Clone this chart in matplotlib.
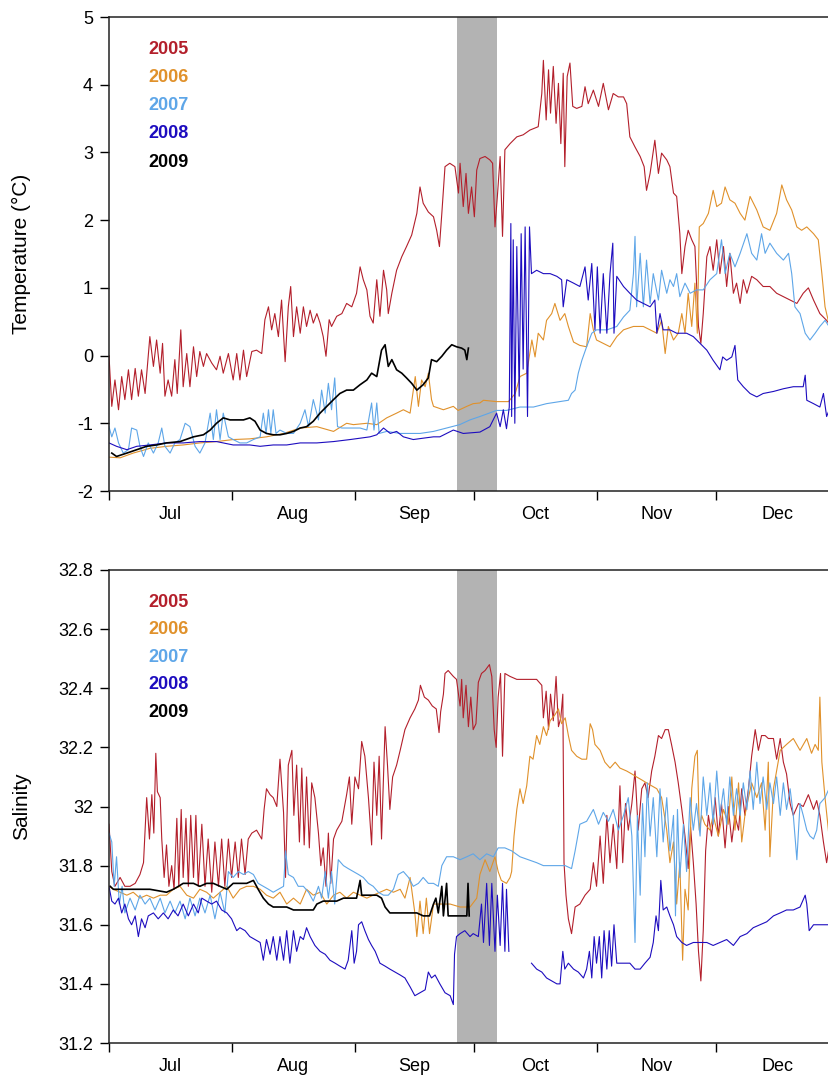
import numpy as np
import matplotlib.pyplot as plt
from matplotlib.ticker import FuncFormatter

plt.rcParams['font.family'] = ['Liberation Sans', 'DejaVu Sans']
plt.rcParams['axes.unicode_minus'] = False

years = ['2005', '2006', '2007', '2008', '2009']
colors = ['#b31f2b', '#e0912b', '#5ea6e8', '#1d0cbf', '#000000']

# x axis is days since 1 July
month_starts = [0, 31, 62, 92, 123, 153, 184]
month_names = ['Jul', 'Aug', 'Sep', 'Oct', 'Nov', 'Dec']
storm_days = [87.7, 97.8]

# ---- temperature (deg C) ----
t05_day = [0, 0.7, 1.5, 2.4, 3.2, 4.0, 4.9, 5.7, 6.6, 7.4,
           8.2, 9.1, 10.3, 11.2, 12.0, 12.9, 13.5, 14.1, 14.9, 15.8,
           16.6, 17.2, 18.1, 18.7, 19.6, 20.4, 21.3, 22.1, 22.9, 23.8,
           24.6, 25.9, 27.1, 28.0, 28.8, 30.1, 31.3, 32.2, 33.0, 33.9,
           34.7, 36.0, 37.2, 38.5, 39.3, 40.2, 41.0, 41.8, 42.7, 43.5,
           44.4, 45.2, 45.8, 46.5, 47.3, 48.2, 49.0, 49.8, 50.7, 51.5,
           52.4, 53.2, 54.0, 54.7, 55.5, 56.1, 57.4, 58.7, 59.9, 61.2,
           62.4, 63.3, 64.1, 65.0, 65.8, 66.6, 67.5, 68.3, 69.2, 70.0,
           70.4, 71.3, 72.5, 73.8, 75.0, 76.3, 77.6, 78.4, 79.2, 80.5,
           81.8, 82.6, 83.3, 83.9, 84.7, 85.9, 87.2, 88.1, 88.5, 89.3,
           90.0, 90.6, 91.4, 92.1, 92.7, 93.5, 94.8, 96.0, 96.7, 97.3,
           97.9, 98.6, 99.2, 99.8, 101.1, 102.8, 104.4, 106.1, 108.2, 109.1,
           109.5, 110.2, 110.8, 111.3, 112.0, 112.7, 113.3, 113.9, 114.5, 114.9,
           115.5, 116.2, 116.9, 117.9, 119.2, 120.0, 120.8, 122.1, 123.4, 124.6,
           125.9, 127.1, 128.4, 129.7, 130.5, 131.3, 132.6, 133.9, 134.9, 135.5,
           136.4, 137.6, 138.5, 139.3, 140.6, 141.4, 142.3, 143.1, 143.9, 144.4,
           145.2, 146.0, 146.9, 147.7, 148.6, 149.2, 149.8, 150.7, 151.5, 152.3,
           153.2, 154.0, 154.9, 155.7, 156.5, 157.4, 158.2, 159.1, 159.9, 160.8,
           162.0, 163.3, 164.9, 166.6, 168.3, 170.0, 171.7, 173.4, 175.0, 176.3,
           177.6, 179.2, 180.9, 181.5]
t05_val = [0.0, -0.75, -0.36, -0.8, -0.31, -0.65, -0.21, -0.65, -0.19, -0.6,
           -0.21, -0.56, 0.28, -0.16, 0.23, -0.26, 0.18, -0.6, -0.36, -0.6,
           -0.06, -0.56, 0.38, -0.46, 0.03, -0.46, 0.13, -0.31, 0.06, -0.16,
           0.03, -0.11, -0.21, -0.01, -0.26, 0.03, -0.36, 0.03, -0.36, 0.08,
           -0.31, 0.06, 0.08, 0.03, 0.53, 0.72, 0.38, 0.62, 0.28, 0.82,
           -0.09, 0.72, 1.02, 0.28, 0.72, 0.33, 0.72, 0.43, 0.67, 0.48,
           0.62, 0.48, 0.28, -0.01, 0.53, 0.43, 0.58, 0.62, 0.77, 0.72,
           0.92, 1.31, 1.12, 0.97, 0.58, 0.48, 1.12, 0.58, 1.26, 0.97,
           0.62, 0.92, 1.26, 1.46, 1.61, 1.78, 2.1, 2.49, 2.25, 2.12,
           2.05, 1.85, 1.61, 2.1, 2.79, 2.84, 2.79, 2.4, 2.84, 2.2,
           2.69, 2.1, 2.49, 2.05, 2.74, 2.91, 2.94, 2.89, 2.84, 1.9,
           2.35, 2.94, 1.76, 3.04, 3.13, 3.23, 3.26, 3.33, 3.38, 3.87,
           4.36, 3.48, 4.22, 3.58, 4.27, 3.43, 4.02, 3.13, 4.17, 2.79,
           4.12, 4.32, 3.68, 3.65, 3.68, 3.97, 3.72, 3.92, 3.68, 4.02,
           3.63, 3.87, 3.82, 3.82, 3.72, 3.23, 3.08, 2.94, 2.79, 2.44,
           2.69, 3.18, 2.69, 2.99, 2.89, 2.79, 2.4, 2.35, 1.8, 1.21,
           1.61, 1.85, 1.71, 1.61, 0.43, 0.18, 0.62, 1.46, 1.61, 1.26,
           1.71, 1.21, 1.61, 1.02, 1.51, 0.92, 1.07, 0.77, 1.12, 0.92,
           1.17, 1.12, 1.02, 1.02, 0.92, 0.87, 0.82, 0.77, 0.92, 1.0,
           0.82, 0.62, 0.52, 0.47]

t06_day = [0, 2.8, 6.1, 10.3, 14.5, 18.7, 22.9, 27.1, 31.3, 35.5,
           39.7, 44.0, 48.2, 52.4, 56.6, 59.9, 61.6, 65.0, 67.5, 70.0,
           72.5, 74.2, 75.9, 77.2, 78.0, 78.8, 79.7, 80.5, 81.3, 81.8,
           84.3, 86.8, 88.0, 90.2, 91.8, 93.5, 94.4, 97.7, 100.7, 102.4,
           103.6, 105.3, 106.6, 107.4, 108.2, 109.5, 110.3, 111.6, 112.4, 113.7,
           114.9, 115.8, 117.1, 118.7, 120.4, 121.3, 122.1, 122.9, 124.6, 126.3,
           128.0, 129.7, 132.2, 134.7, 136.4, 138.1, 139.3, 140.2, 141.0, 142.3,
           143.5, 144.4, 145.2, 146.0, 146.9, 147.7, 148.3, 148.8, 149.8, 151.1,
           152.3, 153.2, 154.4, 155.3, 156.5, 157.8, 159.1, 160.3, 161.6, 163.3,
           164.9, 166.6, 168.3, 169.6, 170.8, 172.1, 173.4, 174.6, 175.9, 177.6,
           178.8, 179.7, 180.5, 181.5]
t06_val = [-1.5, -1.51, -1.44, -1.37, -1.34, -1.32, -1.29, -1.27, -1.24, -1.23,
           -1.2, -1.15, -1.07, -1.05, -1.12, -1.0, -1.02, -1.0, -1.02, -0.92,
           -0.85, -0.8, -0.85, -0.31, -0.75, -0.36, -0.46, -0.26, -0.65, -0.75,
           -0.8, -0.75, -0.81, -0.75, -0.71, -0.7, -0.66, -0.68, -0.68, -0.56,
           -0.31, -0.26, 0.23, -0.02, 0.33, 0.23, 0.52, 0.62, 0.77, 0.52,
           0.62, 0.43, 0.2, 0.15, 0.13, 0.62, 0.38, 0.23, 0.18, 0.13,
           0.28, 0.38, 0.43, 0.43, 0.38, 0.33, 0.52, 0.03, 0.43, 0.23,
           0.33, 0.62, 0.33, 0.92, 0.43, 1.07, 0.33, 1.9, 1.95, 2.1,
           2.44, 2.2, 2.25, 2.49, 2.3, 2.25, 2.1, 2.0, 2.35, 2.15,
           1.9, 1.85, 2.1, 2.52, 2.3, 2.15, 1.9, 1.85, 1.9, 1.8,
           1.71, 1.21, 0.72, 0.47]

t07_day = [0, 0.7, 1.5, 2.4, 3.6, 4.9, 5.7, 7.0, 7.8, 8.7,
           9.9, 11.2, 12.4, 13.3, 14.1, 15.4, 16.6, 17.9, 19.2, 20.4,
           21.7, 22.9, 24.2, 25.5, 26.3, 27.1, 28.0, 28.8, 30.1, 31.3,
           33.0, 34.7, 36.4, 38.1, 38.9, 39.6, 40.2, 40.8, 41.4, 42.1,
           43.1, 44.8, 46.5, 48.2, 49.4, 50.3, 51.5, 52.8, 53.6, 54.5,
           55.3, 56.1, 56.9, 57.6, 58.7, 60.8, 63.3, 65.0, 66.2, 66.8,
           67.5, 68.1, 70.0, 73.4, 75.9, 78.4, 81.8, 85.1, 88.4, 91.0,
           93.5, 97.7, 100.2, 103.6, 107.0, 110.3, 113.7, 115.8, 116.6, 117.5,
           118.3, 119.2, 120.4, 121.7, 122.9, 125.5, 128.0, 129.7, 131.3, 132.2,
           132.6, 133.0, 133.9, 134.7, 135.5, 136.4, 137.2, 138.5, 139.3, 140.6,
           141.4, 142.3, 143.1, 143.9, 145.2, 146.5, 148.1, 149.8, 151.5, 153.2,
           154.4, 155.3, 156.5, 157.8, 159.1, 160.8, 162.0, 163.3, 164.5, 165.4,
           166.6, 168.3, 170.0, 171.3, 172.1, 172.9, 174.2, 175.5, 176.7, 178.0,
           179.2, 180.5, 181.5]
t07_val = [-1.05, -1.2, -1.07, -1.29, -1.44, -1.39, -1.07, -1.1, -1.34, -1.49,
           -1.29, -1.44, -1.29, -1.07, -1.34, -1.44, -1.29, -1.24, -1.0, -1.05,
           -1.34, -1.44, -1.29, -0.85, -1.24, -0.8, -1.24, -0.85, -1.2, -1.24,
           -1.29, -1.29, -1.24, -1.2, -0.85, -1.15, -0.8, -1.15, -0.8, -1.15,
           -1.1, -1.15, -1.15, -1.0, -0.8, -1.05, -0.65, -0.95, -0.51, -0.85,
           -0.41, -0.8, -0.33, -1.05, -1.07, -1.07, -1.07, -1.1, -0.7, -1.1,
           -0.7, -1.15, -1.12, -1.15, -1.15, -1.15, -1.12, -1.07, -1.02, -0.95,
           -0.9, -0.81, -0.81, -0.76, -0.76, -0.71, -0.68, -0.66, -0.56, -0.51,
           -0.26, -0.07, 0.13, 0.33, 0.38, 0.38, 0.43, 0.57, 0.67, 1.21,
           1.76, 0.72, 1.51, 0.72, 1.41, 0.77, 1.21, 0.82, 1.26, 0.92,
           1.12, 1.02, 1.21, 0.87, 1.07, 0.92, 0.97, 0.97, 1.12, 1.21,
           1.71, 1.21, 1.51, 1.31, 1.51, 1.8, 1.51, 1.41, 1.8, 1.51,
           1.66, 1.51, 1.41, 1.51, 1.21, 0.72, 0.62, 0.33, 0.23, 0.33,
           0.43, 0.52, 0.43]

t08_day = [0, 1.9, 4.5, 7.0, 10.3, 14.5, 18.7, 22.9, 27.1, 31.3,
           35.5, 38.1, 41.4, 44.8, 48.2, 52.4, 56.6, 60.8, 63.3, 65.8,
           67.5, 69.2, 70.9, 72.5, 74.2, 76.7, 79.2, 81.8, 83.4, 86.8,
           89.3, 93.5, 96.0, 97.7, 98.6, 99.4, 100.2, 100.9, 101.3, 101.5,
           101.9, 102.3, 102.8, 103.4, 103.9, 104.4, 104.9, 105.5, 106.0, 106.5,
           107.8, 109.5, 111.2, 112.9, 114.1, 114.5, 115.4, 117.1, 118.7, 120.0,
           120.8, 121.7, 122.5, 123.1, 123.8, 124.6, 125.5, 126.3, 127.0, 127.3,
           128.0, 129.7, 131.3, 133.0, 134.7, 136.4, 137.6, 138.1, 138.9, 139.7,
           141.4, 143.1, 145.6, 147.3, 149.0, 150.7, 152.3, 154.0, 154.7, 155.7,
           157.0, 157.8, 158.5, 159.9, 161.6, 163.3, 164.9, 167.5, 170.0, 172.5,
           175.0, 175.5, 175.9, 177.6, 179.2, 180.1, 180.9, 181.5]
t08_val = [-1.29, -1.34, -1.39, -1.34, -1.32, -1.29, -1.29, -1.27, -1.27, -1.32,
           -1.32, -1.34, -1.32, -1.32, -1.29, -1.29, -1.27, -1.24, -1.22, -1.2,
           -1.17, -1.07, -1.15, -1.12, -1.2, -1.24, -1.22, -1.2, -1.2, -1.1,
           -1.15, -1.13, -1.05, -0.85, -1.05, -0.8, -1.08, -0.76, 1.95, -0.9,
           1.71, -1.0, 1.61, -0.6, 1.8, -0.2, 1.9, -0.9, 1.9, 1.21,
           1.26, 1.21, 1.21, 1.17, 1.12, 0.72, 1.12, 1.07, 1.02, 1.31,
           0.82, 1.36, 0.38, 1.31, 0.33, 1.21, 0.33, 1.21, 1.66, 0.33,
           1.17, 1.02, 0.92, 0.82, 0.77, 0.72, 0.82, 0.33, 0.62, 0.38,
           0.38, 0.33, 0.33, 0.28, 0.18, 0.08, -0.07, -0.21, -0.02, -0.07,
           -0.02, 0.15, -0.36, -0.46, -0.56, -0.61, -0.56, -0.53, -0.49, -0.46,
           -0.46, -0.29, -0.66, -0.71, -0.76, -0.56, -0.9, -0.81]

t09_day = [0.7, 1.9, 4.5, 7.0, 9.5, 12.0, 14.5, 17.9, 21.3, 23.8,
           25.5, 27.1, 28.8, 30.5, 32.2, 33.9, 35.5, 36.8, 38.1, 39.7,
           41.4, 43.1, 44.8, 46.5, 48.2, 49.8, 51.5, 53.2, 54.9, 56.6,
           58.2, 59.9, 61.6, 63.3, 65.0, 66.2, 67.5, 68.7, 69.6, 70.4,
           71.3, 72.5, 73.8, 75.0, 76.3, 77.6, 79.2, 80.5, 81.3, 82.6,
           83.9, 85.1, 86.4, 87.6, 88.9, 89.7, 90.2, 90.6]
t09_val = [-1.44, -1.49, -1.44, -1.39, -1.34, -1.32, -1.29, -1.27, -1.2, -1.17,
           -1.1, -1.0, -0.92, -0.95, -0.95, -0.95, -0.92, -0.97, -1.1, -1.15,
           -1.17, -1.17, -1.15, -1.12, -1.07, -1.05, -0.97, -0.85, -0.75, -0.65,
           -0.56, -0.51, -0.51, -0.43, -0.36, -0.26, -0.31, 0.08, 0.16, -0.16,
           -0.06, -0.21, -0.26, -0.33, -0.41, -0.51, -0.43, -0.33, -0.06, -0.09,
           -0.01, 0.08, 0.16, 0.13, 0.11, 0.08, -0.06, 0.11]

# ---- salinity ----
s05_day = [0, 0.7, 1.5, 2.8, 4.0, 5.3, 6.6, 7.8, 8.7, 9.5,
           10.2, 10.8, 11.3, 11.8, 12.2, 12.9, 13.3, 13.9, 14.5, 15.1,
           15.8, 16.4, 17.1, 17.6, 18.2, 18.7, 19.4, 20.0, 20.6, 21.3,
           21.9, 22.5, 23.4, 24.2, 25.0, 25.9, 26.7, 27.6, 28.4, 29.2,
           30.1, 30.9, 31.8, 32.6, 33.4, 34.3, 35.1, 36.0, 37.2, 38.5,
           39.1, 39.7, 40.6, 41.4, 42.3, 43.1, 44.0, 44.5, 45.2, 46.1,
           46.6, 47.3, 48.0, 48.6, 49.2, 49.8, 50.5, 51.1, 51.9, 52.8,
           53.4, 54.0, 54.7, 55.3, 55.9, 56.6, 57.4, 58.7, 59.9, 60.6,
           61.2, 62.0, 62.9, 63.7, 64.5, 65.4, 66.2, 66.8, 67.5, 68.1,
           68.7, 69.6, 70.2, 70.8, 71.5, 72.5, 73.4, 74.6, 75.9, 77.1,
           78.0, 78.5, 79.5, 80.5, 81.5, 82.5, 83.2, 83.6, 84.3, 84.7,
           85.5, 86.8, 87.6, 88.5, 88.9, 89.3, 90.0, 90.6, 91.2, 91.8,
           92.5, 93.1, 93.9, 94.8, 95.9, 96.5, 97.1, 97.6, 98.1, 98.7,
           99.2, 99.8, 101.1, 102.8, 104.4, 106.1, 107.8, 109.1, 109.5, 110.2,
           110.8, 111.3, 112.0, 112.7, 113.3, 113.9, 114.4, 114.7, 115.2, 115.8,
           116.6, 117.5, 118.7, 120.0, 121.3, 122.1, 122.9, 123.8, 124.6, 125.5,
           126.3, 127.1, 128.0, 128.8, 129.5, 130.2, 130.9, 131.8, 132.6, 133.4,
           134.3, 135.1, 135.9, 136.8, 137.6, 138.5, 139.3, 140.2, 141.0, 141.8,
           142.7, 143.5, 144.4, 145.2, 146.0, 146.6, 147.3, 148.0, 148.6, 149.2,
           149.8, 150.4, 151.1, 151.9, 152.8, 153.6, 154.4, 155.3, 156.1, 157.0,
           157.8, 158.7, 159.5, 160.3, 161.2, 162.0, 162.9, 163.7, 164.5, 165.4,
           166.2, 167.5, 168.3, 169.2, 170.0, 170.8, 171.7, 172.5, 173.8, 175.0,
           176.3, 177.6, 178.4, 179.2, 180.1, 180.9, 181.5]
s05_val = [31.94, 31.78, 31.73, 31.76, 31.73, 31.73, 31.74, 31.77, 31.81, 32.03,
           31.89, 32.04, 31.91, 32.18, 32.05, 32.03, 31.89, 31.76, 31.87, 31.73,
           31.8, 31.72, 31.96, 31.73, 31.99, 31.76, 31.96, 31.73, 31.97, 31.76,
           31.97, 31.73, 31.94, 31.73, 31.89, 31.71, 31.88, 31.73, 31.89, 31.73,
           31.89, 31.76, 31.88, 31.76, 31.89, 31.77, 31.89, 31.91, 31.92, 31.89,
           31.99, 32.06, 32.04, 32.03, 32.0, 32.16, 31.98, 31.76, 32.14, 32.19,
           31.97, 32.14, 31.88, 32.13, 31.87, 32.1, 31.86, 32.08, 32.03, 31.91,
           31.8, 31.86, 31.73, 31.91, 31.74, 31.89, 31.92, 31.95, 32.04, 32.1,
           31.94, 32.1, 32.06, 32.22, 32.17, 32.03, 31.87, 32.15, 31.97, 32.17,
           31.89, 32.27, 32.14, 31.99, 32.1, 32.14, 32.19, 32.26, 32.3, 32.33,
           32.36, 32.41, 32.37, 32.36, 32.34, 32.33, 32.25, 32.32, 32.38, 32.45,
           32.46, 32.44, 32.43, 32.34, 32.43, 32.3, 32.41, 32.27, 32.37, 32.26,
           32.28, 32.42, 32.45, 32.46, 32.48, 32.44, 32.26, 32.2, 32.37, 32.45,
           32.17, 32.45, 32.44, 32.43, 32.43, 32.43, 32.43, 32.41, 32.3, 32.39,
           32.26, 32.38, 32.29, 32.44, 32.27, 32.3, 32.38, 31.81, 31.7, 31.62,
           31.57, 31.66, 31.67, 31.7, 31.72, 31.81, 31.73, 31.9, 31.74, 31.97,
           31.81, 31.94, 31.79, 32.07, 31.81, 32.01, 31.92, 32.01, 32.12, 31.92,
           32.06, 32.08, 32.03, 32.12, 32.17, 32.24, 32.23, 32.26, 32.26, 32.21,
           32.15, 32.08, 31.99, 31.9, 31.79, 31.93, 31.81, 31.67, 31.51, 31.41,
           31.58, 31.85, 31.97, 31.9, 32.03, 31.9, 32.01, 31.86, 32.0, 31.88,
           31.97, 31.92, 32.06, 31.97, 32.06, 32.17, 32.26, 32.19, 32.24, 32.24,
           32.23, 32.23, 32.16, 32.23, 32.15, 32.11, 32.01, 31.97, 32.01, 32.0,
           32.04, 31.99, 32.02, 31.97, 31.88, 31.81, 31.86]

s06_day = [0, 1.1, 2.8, 4.5, 6.1, 7.8, 9.5, 11.2, 12.9, 14.5,
           16.2, 17.9, 19.6, 21.3, 22.9, 24.6, 26.3, 28.0, 29.7, 31.3,
           33.0, 34.7, 36.4, 38.1, 39.7, 41.4, 43.1, 44.8, 46.5, 48.2,
           49.8, 51.5, 53.2, 54.9, 56.6, 58.2, 59.9, 61.6, 63.3, 65.0,
           66.6, 68.3, 70.0, 71.7, 73.4, 74.6, 75.9, 77.1, 77.6, 78.4,
           79.2, 80.0, 80.8, 81.8, 83.4, 86.0, 88.5, 91.0, 92.7, 93.5,
           94.8, 96.0, 97.3, 98.1, 98.9, 100.2, 101.1, 101.5, 102.1, 102.8,
           103.6, 104.4, 105.3, 106.1, 106.9, 107.8, 108.6, 109.5, 110.3, 111.2,
           112.4, 113.3, 114.1, 115.0, 115.8, 116.6, 117.9, 119.2, 120.4, 121.3,
           121.9, 122.5, 123.8, 125.0, 126.3, 127.6, 128.8, 130.5, 131.8, 133.0,
           134.3, 135.5, 136.8, 138.1, 139.3, 140.6, 141.4, 142.3, 143.1, 143.9,
           144.6, 145.2, 146.0, 146.9, 147.7, 148.3, 148.8, 149.4, 150.2, 151.5,
           152.3, 153.6, 154.9, 156.1, 157.0, 157.8, 158.7, 159.5, 160.3, 161.2,
           162.0, 163.3, 164.5, 165.4, 166.2, 166.6, 167.5, 169.2, 170.8, 172.5,
           174.2, 175.9, 177.1, 178.0, 178.8, 179.2, 179.7, 180.5, 181.5]
s06_val = [31.73, 31.72, 31.71, 31.7, 31.71, 31.69, 31.7, 31.69, 31.7, 31.7,
           31.72, 31.73, 31.7, 31.69, 31.72, 31.71, 31.69, 31.71, 31.73, 31.69,
           31.72, 31.73, 31.73, 31.72, 31.7, 31.69, 31.71, 31.67, 31.69, 31.67,
           31.72, 31.7, 31.71, 31.67, 31.7, 31.71, 31.69, 31.71, 31.7, 31.69,
           31.7, 31.71, 31.72, 31.71, 31.72, 31.69, 31.76, 31.64, 31.56, 31.68,
           31.57, 31.69, 31.57, 31.67, 31.67, 31.67, 31.66, 31.66, 31.69, 31.77,
           31.82, 31.78, 31.83, 31.78, 31.75, 31.74, 31.76, 31.78, 31.9, 31.99,
           32.06, 32.01, 32.07, 32.17, 32.16, 32.24, 32.21, 32.27, 32.24, 32.29,
           32.31, 32.33, 32.28, 32.3, 32.24, 32.19, 32.17, 32.16, 32.16, 32.28,
           32.26, 32.21, 32.19, 32.15, 32.13, 32.15, 32.13, 32.12, 32.11, 32.1,
           32.09, 32.08, 32.07, 32.06, 32.03, 31.92, 31.81, 31.88, 31.67, 31.81,
           31.48, 31.72, 31.65, 32.06, 32.17, 32.19, 31.92, 31.97, 31.94, 31.92,
           31.97, 31.9, 31.99, 31.94, 32.1, 31.92, 32.08, 31.88, 31.97, 32.03,
           32.08, 32.03, 32.08, 31.92, 32.15, 31.83, 32.06, 32.19, 32.21, 32.23,
           32.19, 32.23, 32.18, 32.21, 32.19, 32.37, 32.15, 32.03, 31.9]

s07_day = [0, 0.7, 1.3, 1.9, 2.6, 3.3, 4.0, 5.3, 6.6, 7.8,
           9.1, 10.3, 11.6, 12.9, 14.1, 15.4, 16.6, 17.9, 19.2, 20.4,
           21.7, 22.9, 24.2, 25.5, 26.7, 28.0, 29.2, 30.1, 31.3, 32.6,
           33.9, 35.1, 36.4, 37.6, 38.9, 40.2, 41.4, 42.7, 44.0, 44.5,
           45.2, 46.5, 47.7, 49.0, 50.3, 51.5, 52.8, 53.6, 54.5, 55.3,
           56.1, 56.9, 57.8, 59.1, 60.3, 61.6, 62.9, 64.1, 65.4, 66.6,
           67.9, 69.2, 70.4, 71.7, 72.9, 74.2, 75.5, 76.7, 78.0, 79.2,
           80.5, 81.8, 83.0, 83.9, 85.1, 86.8, 88.5, 90.2, 91.8, 93.5,
           95.2, 96.9, 98.1, 99.8, 101.5, 103.6, 105.7, 107.8, 109.5, 111.2,
           113.3, 115.0, 116.6, 117.5, 118.7, 120.4, 122.1, 123.4, 124.6, 125.9,
           127.1, 128.4, 129.7, 130.9, 131.8, 132.6, 133.2, 133.9, 134.5, 135.1,
           135.7, 136.4, 137.2, 138.1, 138.9, 139.7, 140.6, 141.4, 142.3, 142.8,
           143.3, 143.9, 144.8, 145.6, 146.5, 147.3, 148.1, 149.0, 149.8, 150.7,
           151.5, 152.3, 153.2, 154.0, 154.9, 155.7, 156.5, 157.4, 158.2, 159.1,
           159.9, 160.8, 161.6, 162.4, 163.3, 164.1, 164.9, 165.8, 166.6, 167.5,
           168.3, 169.2, 170.0, 170.8, 171.7, 172.5, 173.4, 174.2, 175.0, 175.9,
           176.7, 177.6, 178.4, 179.2, 180.5, 181.5]
s07_val = [31.91, 31.88, 31.73, 31.83, 31.67, 31.73, 31.64, 31.69, 31.65, 31.7,
           31.67, 31.69, 31.65, 31.69, 31.64, 31.68, 31.64, 31.68, 31.62, 31.69,
           31.63, 31.69, 31.64, 31.7, 31.62, 31.71, 31.64, 31.78, 31.76, 31.78,
           31.77, 31.78, 31.77, 31.74, 31.73, 31.72, 31.71, 31.72, 31.73, 31.85,
           31.77, 31.76, 31.73, 31.73, 31.71, 31.68, 31.73, 31.69, 31.78, 31.69,
           31.78, 31.67, 31.82, 31.8, 31.79, 31.78, 31.77, 31.76, 31.74, 31.73,
           31.71, 31.7, 31.7, 31.72, 31.77, 31.78, 31.76, 31.73, 31.74, 31.76,
           31.74, 31.74, 31.73, 31.8, 31.83, 31.83, 31.82, 31.83, 31.84, 31.82,
           31.84, 31.83, 31.86, 31.86, 31.85, 31.83, 31.82, 31.81, 31.8, 31.8,
           31.8, 31.8, 31.79, 31.85, 31.94, 31.95, 31.99, 31.94, 31.98, 31.95,
           31.99, 31.92, 31.97, 32.03, 31.9, 31.54, 31.97, 31.7, 32.01, 31.83,
           32.08, 31.9, 32.03, 31.83, 32.06, 31.88, 32.03, 31.85, 31.97, 31.63,
           31.99, 31.76, 31.94, 31.78, 32.03, 31.92, 32.01, 31.9, 32.1, 31.97,
           32.08, 31.94, 32.12, 31.97, 32.06, 31.94, 32.1, 31.97, 32.06, 31.97,
           32.08, 31.99, 32.12, 31.99, 32.15, 32.01, 32.1, 31.99, 32.08, 32.01,
           32.1, 31.97, 32.08, 31.99, 32.06, 31.97, 31.82, 32.01, 31.97, 31.92,
           31.9, 31.89, 31.92, 32.01, 32.03, 32.06]

s08_day = [0, 0.7, 1.5, 2.4, 3.2, 4.0, 4.9, 5.7, 6.6, 7.4,
           8.2, 9.1, 9.9, 11.2, 12.4, 13.7, 14.9, 16.2, 17.4, 18.7,
           20.0, 21.3, 22.5, 23.4, 24.6, 25.9, 27.1, 28.4, 29.7, 30.9,
           32.2, 33.0, 34.3, 35.5, 36.8, 38.1, 38.9, 39.7, 40.6, 41.4,
           42.3, 43.1, 44.0, 44.8, 45.6, 46.5, 47.3, 48.2, 49.0, 49.8,
           50.7, 51.9, 53.2, 54.5, 55.7, 57.0, 58.2, 59.5, 60.3, 61.2,
           61.8, 62.4, 62.9, 63.7, 64.5, 65.4, 66.2, 67.1, 68.3, 69.6,
           70.8, 72.1, 73.4, 74.6, 75.9, 77.1, 78.4, 79.7, 80.5, 81.3,
           82.2, 83.4, 84.7, 86.0, 86.8, 87.1, 87.6, 88.5, 89.7, 91.0,
           91.8, 93.1, 93.9, 94.4, 95.2, 95.9, 96.5, 97.3, 97.9, 98.6,
           99.2, 99.8, 100.2, 100.8, 103.5, 106.5, 107.8, 109.1, 110.3, 111.6,
           112.9, 113.7, 114.4, 114.9, 115.8, 117.1, 118.3, 119.6, 120.4, 121.1,
           121.7, 122.3, 122.9, 123.6, 124.2, 124.8, 125.5, 126.1, 126.7, 127.3,
           128.0, 128.8, 130.1, 131.3, 132.6, 133.9, 135.1, 136.4, 137.2, 137.9,
           138.5, 139.1, 139.7, 140.6, 141.4, 142.3, 143.1, 144.4, 145.6, 147.3,
           149.0, 150.7, 152.3, 154.0, 155.7, 157.4, 159.1, 160.8, 162.4, 164.1,
           165.8, 167.5, 169.2, 170.8, 172.5, 174.2, 175.5, 175.9, 176.5, 177.6,
           179.2, 181.5]
s08_val = [31.73, 31.68, 31.67, 31.69, 31.64, 31.67, 31.62, 31.6, 31.63, 31.56,
           31.62, 31.59, 31.63, 31.64, 31.62, 31.64, 31.62, 31.65, 31.63, 31.67,
           31.63, 31.67, 31.64, 31.69, 31.68, 31.67, 31.68, 31.65, 31.64, 31.62,
           31.58, 31.59, 31.58, 31.56, 31.55, 31.54, 31.48, 31.55, 31.5, 31.56,
           31.48, 31.56, 31.48, 31.58, 31.47, 31.58, 31.51, 31.56, 31.55, 31.59,
           31.56, 31.53, 31.51, 31.5, 31.48, 31.47, 31.46, 31.45, 31.48, 31.58,
           31.47, 31.51, 31.6, 31.61, 31.58, 31.55, 31.53, 31.51, 31.47, 31.46,
           31.45, 31.44, 31.43, 31.42, 31.39, 31.36, 31.37, 31.38, 31.44, 31.42,
           31.43, 31.4, 31.37, 31.36, 31.33, 31.5, 31.56, 31.57, 31.58, 31.56,
           31.57, 31.56, 31.67, 31.54, 31.74, 31.53, 31.74, 31.51, 31.7, 31.53,
           31.74, 31.51, 31.72, 31.51, np.nan, 31.47, 31.45, 31.44, 31.42, 31.41,
           31.4, 31.4, 31.51, 31.45, 31.47, 31.45, 31.44, 31.42, 31.45, 31.51,
           31.42, 31.56, 31.47, 31.56, 31.42, 31.58, 31.45, 31.58, 31.46, 31.6,
           31.47, 31.47, 31.47, 31.47, 31.45, 31.45, 31.47, 31.49, 31.54, 31.63,
           31.58, 31.75, 31.65, 31.66, 31.63, 31.6, 31.56, 31.54, 31.53, 31.54,
           31.54, 31.54, 31.53, 31.54, 31.55, 31.53, 31.56, 31.57, 31.59, 31.6,
           31.61, 31.63, 31.64, 31.65, 31.65, 31.66, 31.7, 31.67, 31.58, 31.6,
           31.6, 31.6]

s09_day = [0.3, 1.1, 2.8, 6.1, 10.3, 14.5, 16.2, 17.5, 18.7, 21.3,
           22.9, 24.6, 26.3, 28.0, 29.7, 31.3, 33.0, 34.7, 36.4, 37.6,
           38.9, 40.2, 41.4, 43.1, 44.8, 46.5, 48.2, 49.8, 51.5, 52.4,
           54.0, 55.7, 57.4, 59.1, 60.8, 62.4, 63.3, 63.7, 65.0, 66.2,
           67.5, 68.7, 69.6, 70.8, 72.5, 74.2, 75.9, 77.6, 79.2, 80.8,
           81.8, 82.4, 83.0, 83.9, 84.3, 85.1, 85.5, 86.8, 88.5, 90.2,
           90.5, 90.8]
s09_val = [31.73, 31.72, 31.72, 31.72, 31.72, 31.71, 31.72, 31.73, 31.74, 31.74,
           31.73, 31.74, 31.74, 31.73, 31.72, 31.74, 31.74, 31.74, 31.75, 31.72,
           31.69, 31.67, 31.66, 31.66, 31.66, 31.65, 31.65, 31.65, 31.65, 31.67,
           31.68, 31.68, 31.68, 31.69, 31.69, 31.69, 31.75, 31.7, 31.7, 31.7,
           31.7, 31.69, 31.66, 31.64, 31.64, 31.64, 31.64, 31.64, 31.63, 31.63,
           31.67, 31.69, 31.64, 31.73, 31.63, 31.74, 31.63, 31.63, 31.63, 31.63,
           31.74, 31.63]

temp_series = [(t05_day, t05_val), (t06_day, t06_val), (t07_day, t07_val),
               (t08_day, t08_val), (t09_day, t09_val)]
sal_series = [(s05_day, s05_val), (s06_day, s06_val), (s07_day, s07_val),
              (s08_day, s08_val), (s09_day, s09_val)]


def draw_panel(ax, series, ylim, yticks, ylabel, label_step):
    ax.axvspan(storm_days[0], storm_days[1], color='#b3b3b3', lw=0, zorder=0)
    for (d, v), c, yr in zip(series, colors, years):
        ax.plot(d, v, color=c, lw=1.2 if yr == '2009' else 0.8, zorder=2)

    ax.set_xlim(0, 181.5)
    ax.set_ylim(*ylim)
    ax.set_yticks(yticks)
    ax.yaxis.set_major_formatter(FuncFormatter(lambda v, p: f'{v:g}'))

    mids = [(a + b) / 2 for a, b in zip(month_starts[:-1], month_starts[1:])]
    ax.set_xticks(month_starts[:-1])
    ax.set_xticklabels([])
    ax.set_xticks(mids, minor=True)
    ax.set_xticklabels(month_names, minor=True)
    ax.tick_params(axis='x', which='major', direction='out', length=6.5, width=1.0)
    ax.tick_params(axis='x', which='minor', length=0, pad=11, labelsize=13)
    ax.tick_params(axis='y', direction='out', length=6.5, width=1.0, pad=5, labelsize=13)

    ax.spines['right'].set_visible(False)
    for s in ['left', 'bottom', 'top']:
        ax.spines[s].set_linewidth(1.1)
        ax.spines[s].set_color('#222222')

    ax.set_ylabel(ylabel, fontsize=15, va='center')
    ax.yaxis.set_label_coords(-0.121, 0.5)

    for i, (yr, c) in enumerate(zip(years, colors)):
        ax.text(0.054, 0.932 - i * label_step, yr, color=c, fontsize=13,
                fontweight='bold', va='center', ha='left', transform=ax.transAxes)


fig = plt.figure(figsize=(8.29, 10.8), dpi=100)
ax_t = fig.add_axes([109 / 829, 589 / 1080, 720 / 829, 474 / 1080])
ax_s = fig.add_axes([109 / 829, 37 / 1080, 720 / 829, 473 / 1080])

draw_panel(ax_t, temp_series, (-2, 5), list(range(-2, 6)), 'Temperature (°C)', 0.0595)
draw_panel(ax_s, sal_series, (31.2, 32.8), [31.2 + 0.2 * i for i in range(9)], 'Salinity', 0.0583)

fig.savefig('out.png', dpi=100)
